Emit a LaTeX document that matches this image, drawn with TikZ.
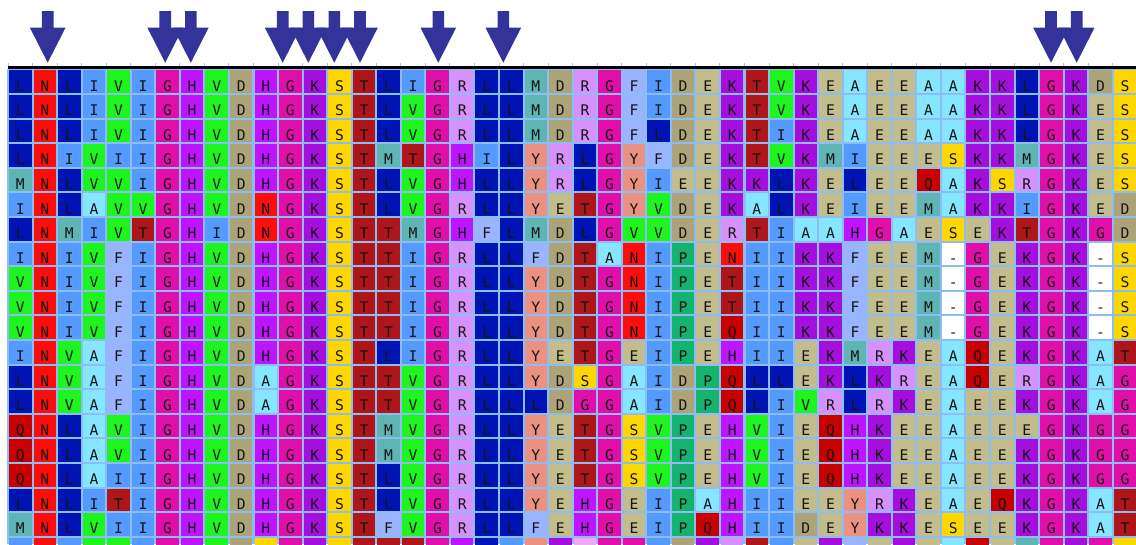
\documentclass[tikz,border=0pt]{standalone}
\usepackage{fontspec}
\newfontfamily\resfont{DejaVu Sans Mono}
\definecolor{aaL}{RGB}{0,20,180}
\definecolor{aaN}{RGB}{255,12,12}
\definecolor{aaI}{RGB}{85,155,255}
\definecolor{aaV}{RGB}{30,245,30}
\definecolor{aaG}{RGB}{225,15,170}
\definecolor{aaH}{RGB}{190,20,255}
\definecolor{aaD}{RGB}{172,164,120}
\definecolor{aaK}{RGB}{165,15,222}
\definecolor{aaS}{RGB}{255,215,0}
\definecolor{aaT}{RGB}{175,22,25}
\definecolor{aaR}{RGB}{215,145,250}
\definecolor{aaM}{RGB}{95,180,180}
\definecolor{aaF}{RGB}{155,180,255}
\definecolor{aaE}{RGB}{195,188,140}
\definecolor{aaA}{RGB}{135,230,255}
\definecolor{aaY}{RGB}{235,145,130}
\definecolor{aaP}{RGB}{20,180,110}
\definecolor{aaQ}{RGB}{200,0,0}
\definecolor{aaX}{RGB}{255,255,255}
\definecolor{aaZ}{RGB}{242,168,240}
\definecolor{gridc}{RGB}{140,190,245}
\definecolor{tickc}{RGB}{156,200,248}
\definecolor{arrowc}{RGB}{51,51,153}
\begin{document}
\begin{tikzpicture}[x=0.75pt,y=-0.75pt,
  cell/.style={draw=none,inner sep=0pt,minimum width=16.9pt,minimum height=16.95pt,
    font=\resfont\fontsize{11}{11}\selectfont,text=black!92,text height=14pt,text depth=0pt},
  marker/.style={fill=arrowc,draw=none}]
\useasboundingbox (0,0) rectangle (1136,544);
\clip (0,0) rectangle (1136,544);
\fill[white] (0,0) rectangle (1136,544);
% grid background
\fill[gridc] (7,69) rectangle (1136,544);
% black top rule
\fill[black] (8,66.4) rectangle (1136,69.2);
% ticks
\foreach \k in {0,...,46}
  \draw[tickc,line width=0.75pt] ({8+\k*24.55},62.5) -- ({8+\k*24.55},66.4);
% residues
\foreach \row [count=\r] in {
 {L,N,L,I,V,I,G,H,V,D,H,G,K,S,T,L,I,G,R,L,L,M,D,R,G,F,I,D,E,K,T,V,K,E,A,E,E,A,A,K,K,L,G,K,D,S},
 {L,N,L,I,V,I,G,H,V,D,H,G,K,S,T,L,V,G,R,L,L,M,D,R,G,F,I,D,E,K,T,V,K,E,A,E,E,A,A,K,K,L,G,K,E,S},
 {L,N,L,I,V,I,G,H,V,D,H,G,K,S,T,L,V,G,R,L,L,M,D,R,G,F,L,D,E,K,T,I,K,E,A,E,E,A,A,K,K,L,G,K,E,S},
 {L,N,I,V,I,I,G,H,V,D,H,G,K,S,T,M,T,G,H,I,L,Y,R,L,G,Y,F,D,E,K,T,V,K,M,I,E,E,E,S,K,K,M,G,K,E,S},
 {M,N,L,V,V,I,G,H,V,D,H,G,K,S,T,L,V,G,H,L,L,Y,R,L,G,Y,I,E,E,K,K,L,K,E,L,E,E,Q,A,K,S,R,G,K,E,S},
 {I,N,L,A,V,V,G,H,V,D,N,G,K,S,T,L,V,G,R,L,L,Y,E,T,G,Y,V,D,E,K,A,L,K,E,I,E,E,M,A,K,K,I,G,K,E,D},
 {L,N,M,I,V,T,G,H,I,D,N,G,K,S,T,T,M,G,H,F,L,M,D,L,G,V,V,D,E,R,T,I,A,A,H,G,A,E,S,E,K,T,G,K,G,D},
 {I,N,I,V,F,I,G,H,V,D,H,G,K,S,T,T,I,G,R,L,L,F,D,T,A,N,I,P,E,N,I,I,K,K,F,E,E,M,X,G,E,K,G,K,X,S},
 {V,N,I,V,F,I,G,H,V,D,H,G,K,S,T,T,I,G,R,L,L,Y,D,T,G,N,I,P,E,T,I,I,K,K,F,E,E,M,X,G,E,K,G,K,X,S},
 {V,N,I,V,F,I,G,H,V,D,H,G,K,S,T,T,I,G,R,L,L,Y,D,T,G,N,I,P,E,T,I,I,K,K,F,E,E,M,X,G,E,K,G,K,X,S},
 {V,N,I,V,F,I,G,H,V,D,H,G,K,S,T,T,I,G,R,L,L,Y,D,T,G,N,I,P,E,Q,I,I,K,K,F,E,E,M,X,G,E,K,G,K,X,S},
 {I,N,V,A,F,I,G,H,V,D,H,G,K,S,T,L,I,G,R,L,L,Y,E,T,G,E,I,P,E,H,I,I,E,K,M,R,K,E,A,Q,E,K,G,K,A,T},
 {L,N,V,A,F,I,G,H,V,D,A,G,K,S,T,T,V,G,R,L,L,Y,D,S,G,A,I,D,P,Q,L,L,E,K,L,K,R,E,A,Q,E,R,G,K,A,G},
 {L,N,V,A,F,I,G,H,V,D,A,G,K,S,T,T,V,G,R,L,L,L,D,G,G,A,I,D,P,Q,L,I,V,R,L,R,K,E,A,E,E,K,G,K,A,G},
 {Q,N,L,A,V,I,G,H,V,D,H,G,K,S,T,M,V,G,R,L,L,Y,E,T,G,S,V,P,E,H,V,I,E,Q,H,K,E,E,A,E,E,E,G,K,G,G},
 {Q,N,L,A,V,I,G,H,V,D,H,G,K,S,T,M,V,G,R,L,L,Y,E,T,G,S,V,P,E,H,V,I,E,Q,H,K,E,E,A,E,E,K,G,K,G,G},
 {Q,N,L,A,I,I,G,H,V,D,H,G,K,S,T,L,V,G,R,L,L,Y,E,T,G,S,V,P,E,H,V,I,E,Q,H,K,E,E,A,E,E,K,G,K,G,G},
 {L,N,L,I,T,I,G,H,V,D,H,G,K,S,T,L,V,G,R,L,L,Y,E,H,G,E,I,P,A,H,I,I,E,E,Y,R,K,E,A,E,Q,K,G,K,A,T},
 {M,N,L,V,I,I,G,H,V,D,H,G,K,S,T,F,V,G,R,L,L,F,E,H,G,E,I,P,Q,H,I,I,D,E,Y,K,K,E,S,E,E,K,G,K,A,T}}
 {\foreach \aa [count=\c] in \row
   {\node[cell,fill=aa\aa] (c-\r-\c) at ({8+(\c-0.5)*24.55},{69.4+(\r-0.5)*24.6})
      {\if\aa X-\else\aa\fi};}}
% last, partly hidden row
\foreach \aa [count=\c] in {I,N,I,V,V,I,G,H,V,D,S,G,K,S,T,T,T,G,H,L,I,Y,K,Z,G,G,I,D,K,R,T,I,E,K,F,E,K,E,A,Q,E,M,G,K,G,S}
  {\node[cell,fill=aa\aa] (c-20-\c) at ({8+(\c-0.5)*24.55},{69.4+19.5*24.6}) {};}
% arrows
\foreach \x in {47.7,165.2,190.8,282.7,308.3,334.3,360,438.3,503.3,1051,1076.7}
  \fill[marker] (\x-5.8,11) -- (\x+5.8,11) -- (\x+5.8,27.7) -- (\x+17.8,27.7)
     -- (\x,62.7) -- (\x-17.8,27.7) -- (\x-5.8,27.7) -- cycle;
\end{tikzpicture}
\end{document}
